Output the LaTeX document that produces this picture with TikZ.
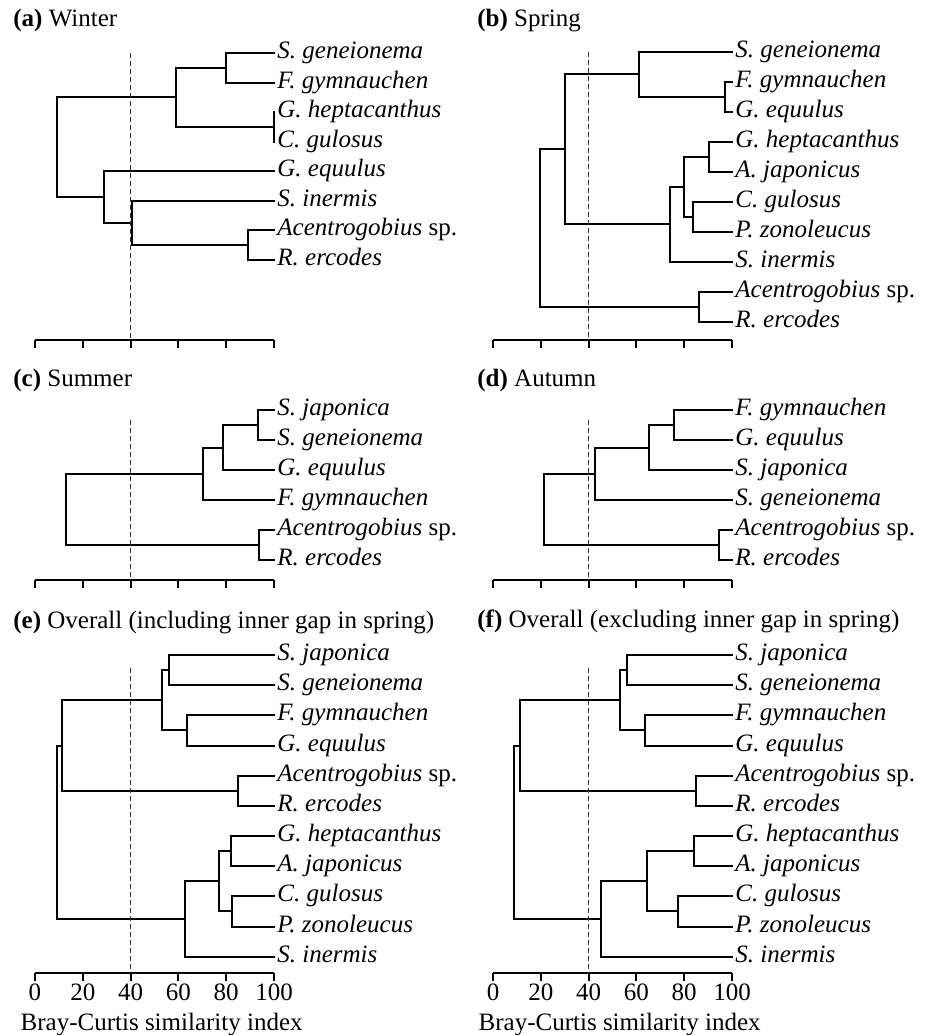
\documentclass[tikz,border=0pt]{standalone}
\usepackage{fontspec}
\setmainfont{Liberation Serif}

\begin{document}
\begin{tikzpicture}[x=0.5pt, y=-0.5pt, font=\fontsize{12.5}{15}\selectfont,
  leaf/.style={anchor=west, inner xsep=1.5pt, inner ysep=0pt, text height=0.75em, text depth=0.2em, font=\fontsize{12.5}{15}\selectfont\itshape},
  branch/.style={line width=1pt, line cap=rect},
  cut/.style={dash pattern=on 2.5pt off 1.5pt, line width=0.6pt, black!80},
  axis/.style={line width=1.3pt},
  tick/.style={line width=1pt},
  title/.style={anchor=base west, inner sep=0pt},
  ticklabel/.style={anchor=base, inner sep=0pt}
]
\useasboundingbox (0,0) rectangle (934,1035);

% panel titles
\node[title] (a-title) at (13,26) {\textbf{(a)} Winter};
\node[title] (b-title) at (477,26) {\textbf{(b)} Spring};
\node[title] (c-title) at (13,386) {\textbf{(c)} Summer};
\node[title] (d-title) at (477,386) {\textbf{(d)} Autumn};
\node[title] (e-title) at (13,628) {\textbf{(e)} Overall (including inner gap in spring)};
\node[title] (f-title) at (477,627) {\textbf{(f)} Overall (excluding inner gap in spring)};

% (a) Winter
\begin{scope}[xshift=17.5pt, x=1.195pt]
\node[leaf] (a-sgen) at (100,53) {S. geneionema};
\node[leaf] (a-fgym) at (100,82.5) {F. gymnauchen};
\node[leaf] (a-ghep) at (100,112) {G. heptacanthus};
\node[leaf] (a-cgul) at (100,141.5) {C. gulosus};
\node[leaf] (a-gequ) at (100,171) {G. equulus};
\node[leaf] (a-sine) at (100,200.5) {S. inermis};
\node[leaf] (a-acen) at (100,230) {Acentrogobius \textup{sp.}};
\node[leaf] (a-rerc) at (100,259.5) {R. ercodes};
\coordinate (a1) at (80,67.75);
\coordinate (a2) at (100,126.75);
\coordinate (a3) at (59,97.25);
\coordinate (a4) at (89,244.75);
\coordinate (a5) at (40.5,222.6);
\coordinate (a6) at (29,196.8);
\coordinate (a7) at (9,147);
\draw[branch] (a-sgen.west) -| (a1) |- (a-fgym.west);
\draw[branch] (a-ghep.west) -| (a2) |- (a-cgul.west);
\draw[branch] (a1) -| (a3) |- (a2);
\draw[branch] (a-acen.west) -| (a4) |- (a-rerc.west);
\draw[branch] (a-sine.west) -| (a5) |- (a4);
\draw[branch] (a-gequ.west) -| (a6) |- (a5);
\draw[branch] (a3) -| (a7) |- (a6);
\draw[cut] (40,53) -- (40,340);
\draw[axis] (0,340) -- (100,340);
\foreach \t in {0,20,...,100}
  \draw[tick] (\t,340) -- (\t,348);
\end{scope}

% (b) Spring
\begin{scope}[xshift=246.5pt, x=1.195pt]
\node[leaf] (b-sgen) at (100,51.5) {S. geneionema};
\node[leaf] (b-fgym) at (100,81.5) {F. gymnauchen};
\node[leaf] (b-gequ) at (100,111.5) {G. equulus};
\node[leaf] (b-ghep) at (100,141.5) {G. heptacanthus};
\node[leaf] (b-ajap) at (100,171.5) {A. japonicus};
\node[leaf] (b-cgul) at (100,201.5) {C. gulosus};
\node[leaf] (b-pzon) at (100,231.5) {P. zonoleucus};
\node[leaf] (b-sine) at (100,261.5) {S. inermis};
\node[leaf] (b-acen) at (100,291.5) {Acentrogobius \textup{sp.}};
\node[leaf] (b-rerc) at (100,321.5) {R. ercodes};
\coordinate (b1) at (97.2,96.5);
\coordinate (b2) at (61.2,74);
\coordinate (b3) at (90.2,156.5);
\coordinate (b4) at (83.7,216.5);
\coordinate (b5) at (79.8,186.5);
\coordinate (b6) at (73.9,224);
\coordinate (b7) at (30,149);
\coordinate (b8) at (86.3,306.5);
\coordinate (b9) at (19.8,227.75);
\draw[branch] (b-fgym.west) -| (b1) |- (b-gequ.west);
\draw[branch] (b-sgen.west) -| (b2) |- (b1);
\draw[branch] (b-ghep.west) -| (b3) |- (b-ajap.west);
\draw[branch] (b-cgul.west) -| (b4) |- (b-pzon.west);
\draw[branch] (b3) -| (b5) |- (b4);
\draw[branch] (b5) -| (b6) |- (b-sine.west);
\draw[branch] (b2) -| (b7) |- (b6);
\draw[branch] (b-acen.west) -| (b8) |- (b-rerc.west);
\draw[branch] (b7) -| (b9) |- (b8);
\draw[cut] (40,51.5) -- (40,340);
\draw[axis] (0,340) -- (100,340);
\foreach \t in {0,20,...,100}
  \draw[tick] (\t,340) -- (\t,348);
\end{scope}

% (c) Summer
\begin{scope}[xshift=17.5pt, x=1.195pt]
\node[leaf] (c-sjap) at (100,410) {S. japonica};
\node[leaf] (c-sgen) at (100,440) {S. geneionema};
\node[leaf] (c-gequ) at (100,470) {G. equulus};
\node[leaf] (c-fgym) at (100,500) {F. gymnauchen};
\node[leaf] (c-acen) at (100,530) {Acentrogobius \textup{sp.}};
\node[leaf] (c-rerc) at (100,560) {R. ercodes};
\coordinate (c1) at (93.4,425);
\coordinate (c2) at (78.5,447.5);
\coordinate (c3) at (70.4,473.75);
\coordinate (c4) at (93.8,545);
\coordinate (c5) at (12.8,509.4);
\draw[branch] (c-sjap.west) -| (c1) |- (c-sgen.west);
\draw[branch] (c1) -| (c2) |- (c-gequ.west);
\draw[branch] (c2) -| (c3) |- (c-fgym.west);
\draw[branch] (c-acen.west) -| (c4) |- (c-rerc.west);
\draw[branch] (c3) -| (c5) |- (c4);
\draw[cut] (40,420) -- (40,580);
\draw[axis] (0,580) -- (100,580);
\foreach \t in {0,20,...,100}
  \draw[tick] (\t,580) -- (\t,588);
\end{scope}

% (d) Autumn
\begin{scope}[xshift=246.5pt, x=1.195pt]
\node[leaf] (d-fgym) at (100,410) {F. gymnauchen};
\node[leaf] (d-gequ) at (100,440) {G. equulus};
\node[leaf] (d-sjap) at (100,470) {S. japonica};
\node[leaf] (d-sgen) at (100,500) {S. geneionema};
\node[leaf] (d-acen) at (100,530) {Acentrogobius \textup{sp.}};
\node[leaf] (d-rerc) at (100,560) {R. ercodes};
\coordinate (d1) at (75.6,425);
\coordinate (d2) at (65.4,447.5);
\coordinate (d3) at (42.6,473.75);
\coordinate (d4) at (94.7,545);
\coordinate (d5) at (21.5,509.4);
\draw[branch] (d-fgym.west) -| (d1) |- (d-gequ.west);
\draw[branch] (d1) -| (d2) |- (d-sjap.west);
\draw[branch] (d2) -| (d3) |- (d-sgen.west);
\draw[branch] (d-acen.west) -| (d4) |- (d-rerc.west);
\draw[branch] (d3) -| (d5) |- (d4);
\draw[cut] (40,420) -- (40,580);
\draw[axis] (0,580) -- (100,580);
\foreach \t in {0,20,...,100}
  \draw[tick] (\t,580) -- (\t,588);
\end{scope}

% (e) Overall, including inner gap
\begin{scope}[xshift=17.5pt, x=1.195pt]
\node[leaf] (e-sjap) at (100,655) {S. japonica};
\node[leaf] (e-sgen) at (100,685.2) {S. geneionema};
\node[leaf] (e-fgym) at (100,715.3) {F. gymnauchen};
\node[leaf] (e-gequ) at (100,745.5) {G. equulus};
\node[leaf] (e-acen) at (100,775.7) {Acentrogobius \textup{sp.}};
\node[leaf] (e-rerc) at (100,805.9) {R. ercodes};
\node[leaf] (e-ghep) at (100,836) {G. heptacanthus};
\node[leaf] (e-ajap) at (100,866.2) {A. japonicus};
\node[leaf] (e-cgul) at (100,896.4) {C. gulosus};
\node[leaf] (e-pzon) at (100,926.5) {P. zonoleucus};
\node[leaf] (e-sine) at (100,956.7) {S. inermis};
\coordinate (e1) at (56.2,670.1);
\coordinate (e2) at (63.7,730.4);
\coordinate (e3) at (53.3,700.25);
\coordinate (e4) at (85.1,790.8);
\coordinate (e5) at (11.1,745.5);
\coordinate (e6) at (82,851.1);
\coordinate (e7) at (82.6,911.45);
\coordinate (e8) at (77,881.3);
\coordinate (e9) at (62.8,919);
\coordinate (e10) at (9.1,832.25);
\draw[branch] (e-sjap.west) -| (e1) |- (e-sgen.west);
\draw[branch] (e-fgym.west) -| (e2) |- (e-gequ.west);
\draw[branch] (e1) -| (e3) |- (e2);
\draw[branch] (e-acen.west) -| (e4) |- (e-rerc.west);
\draw[branch] (e3) -| (e5) |- (e4);
\draw[branch] (e-ghep.west) -| (e6) |- (e-ajap.west);
\draw[branch] (e-cgul.west) -| (e7) |- (e-pzon.west);
\draw[branch] (e6) -| (e8) |- (e7);
\draw[branch] (e8) -| (e9) |- (e-sine.west);
\draw[branch] (e5) -| (e10) |- (e9);
\draw[cut] (40,668) -- (40,973);
\draw[axis] (0,973) -- (100,973);
\foreach \t in {0,20,...,100} {
  \draw[tick] (\t,973) -- (\t,981);
  \node[ticklabel] (e-t\t) at (\t,1000) {\t};
}
\node[ticklabel] (e-xlabel) at (53,1030) {Bray-Curtis similarity index};
\end{scope}

% (f) Overall, excluding inner gap
\begin{scope}[xshift=246.5pt, x=1.195pt]
\node[leaf] (f-sjap) at (100,655) {S. japonica};
\node[leaf] (f-sgen) at (100,685.2) {S. geneionema};
\node[leaf] (f-fgym) at (100,715.3) {F. gymnauchen};
\node[leaf] (f-gequ) at (100,745.5) {G. equulus};
\node[leaf] (f-acen) at (100,775.7) {Acentrogobius \textup{sp.}};
\node[leaf] (f-rerc) at (100,805.9) {R. ercodes};
\node[leaf] (f-ghep) at (100,836) {G. heptacanthus};
\node[leaf] (f-ajap) at (100,866.2) {A. japonicus};
\node[leaf] (f-cgul) at (100,896.4) {C. gulosus};
\node[leaf] (f-pzon) at (100,926.5) {P. zonoleucus};
\node[leaf] (f-sine) at (100,956.7) {S. inermis};
\coordinate (f1) at (56.1,670.1);
\coordinate (f2) at (63.7,730.4);
\coordinate (f3) at (53,700.25);
\coordinate (f4) at (85.1,790.8);
\coordinate (f5) at (11.4,745.5);
\coordinate (f6) at (84,851.1);
\coordinate (f7) at (77.4,911.45);
\coordinate (f8) at (64.4,881.3);
\coordinate (f9) at (45.2,919);
\coordinate (f10) at (8.9,832.25);
\draw[branch] (f-sjap.west) -| (f1) |- (f-sgen.west);
\draw[branch] (f-fgym.west) -| (f2) |- (f-gequ.west);
\draw[branch] (f1) -| (f3) |- (f2);
\draw[branch] (f-acen.west) -| (f4) |- (f-rerc.west);
\draw[branch] (f3) -| (f5) |- (f4);
\draw[branch] (f-ghep.west) -| (f6) |- (f-ajap.west);
\draw[branch] (f-cgul.west) -| (f7) |- (f-pzon.west);
\draw[branch] (f6) -| (f8) |- (f7);
\draw[branch] (f8) -| (f9) |- (f-sine.west);
\draw[branch] (f5) -| (f10) |- (f9);
\draw[cut] (40,668) -- (40,973);
\draw[axis] (0,973) -- (100,973);
\foreach \t in {0,20,...,100} {
  \draw[tick] (\t,973) -- (\t,981);
  \node[ticklabel] (f-t\t) at (\t,1000) {\t};
}
\node[ticklabel] (f-xlabel) at (53,1030) {Bray-Curtis similarity index};
\end{scope}

\end{tikzpicture}
\end{document}
